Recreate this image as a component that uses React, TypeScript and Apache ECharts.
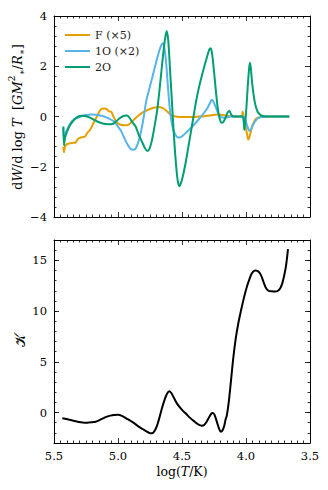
import React, { useEffect, useRef } from "react";
import * as echarts from "echarts";

// ---- Data ----
const fLogT = [5.427, 5.422, 5.414, 5.398, 5.375, 5.35, 5.33, 5.315, 5.297, 5.275, 5.258, 5.235, 5.22, 5.2, 5.18, 5.16, 5.145, 5.13, 5.11, 5.09, 5.07, 5.055, 5.04, 5.02, 5.0, 4.98, 4.95, 4.92, 4.89, 4.86, 4.83, 4.8, 4.76, 4.72, 4.685, 4.65, 4.62, 4.59, 4.56, 4.52, 4.45, 4.36, 4.28, 4.22, 4.17, 4.14, 4.1, 4.035, 4.026, 4.018, 4.005, 3.99, 3.982, 3.972, 3.955, 3.943, 3.92, 3.89, 3.86, 3.662];
const fVal = [-1.2, -1.42, -1.2, -1.1, -1.07, -1.05, -1.03, -0.9, -0.85, -0.82, -0.8, -0.62, -0.55, -0.35, -0.15, 0.05, 0.2, 0.3, 0.32, 0.3, 0.2, 0.2, 0.05, -0.15, -0.28, -0.33, -0.35, -0.33, -0.2, -0.05, 0.08, 0.18, 0.28, 0.35, 0.38, 0.33, 0.22, 0.08, 0.01, -0.02, -0.02, 0, 0.04, 0.08, 0.05, 0.02, 0, 0, 0.19, 0, -0.35, -0.75, -0.92, -0.8, -0.45, -0.27, -0.08, -0.02, 0, 0];

const oLogT = [5.427, 5.422, 5.414, 5.4, 5.37, 5.34, 5.29, 5.25, 5.213, 5.17, 5.13, 5.109, 5.07, 5.031, 5.0, 4.979, 4.96, 4.94, 4.915, 4.9, 4.88, 4.862, 4.84, 4.82, 4.8, 4.78, 4.75, 4.72, 4.69, 4.665, 4.652, 4.64, 4.625, 4.61, 4.595, 4.575, 4.555, 4.529, 4.51, 4.49, 4.45, 4.41, 4.37, 4.335, 4.3, 4.28, 4.268, 4.255, 4.235, 4.215, 4.2, 4.175, 4.15, 4.12, 4.03, 4.012, 3.995, 3.98, 3.972, 3.96, 3.943, 3.93, 3.91, 3.88, 3.85, 3.662];
const oVal = [-0.45, -0.85, -0.7, -0.55, -0.25, -0.1, 0.0, 0.06, 0.08, 0.07, 0.03, 0.0, -0.08, -0.2, -0.4, -0.55, -0.75, -0.98, -1.2, -1.3, -1.32, -1.28, -1.0, -0.6, -0.05, 0.6, 1.2, 1.8, 2.4, 2.8, 2.92, 2.8, 2.2, 1.2, 0.3, -0.4, -0.7, -0.84, -0.82, -0.75, -0.55, -0.35, -0.12, 0.1, 0.35, 0.55, 0.67, 0.6, 0.35, 0.1, 0, -0.05, -0.04, 0, 0, -0.05, -0.3, -0.52, -0.57, -0.5, -0.32, -0.2, -0.08, -0.02, 0, 0];

const tLogT = [5.427, 5.422, 5.414, 5.398, 5.375, 5.344, 5.31, 5.28, 5.24, 5.2, 5.162, 5.12, 5.07, 5.045, 5.02, 4.99, 4.953, 4.93, 4.91, 4.885, 4.862, 4.84, 4.813, 4.79, 4.771, 4.755, 4.735, 4.715, 4.695, 4.675, 4.655, 4.635, 4.62, 4.607, 4.595, 4.58, 4.565, 4.55, 4.535, 4.521, 4.505, 4.49, 4.47, 4.45, 4.43, 4.41, 4.39, 4.37, 4.346, 4.32, 4.3, 4.285, 4.276, 4.265, 4.25, 4.235, 4.22, 4.205, 4.19, 4.175, 4.16, 4.145, 4.13, 4.118, 4.1, 4.03, 4.018, 4.013, 4.005, 3.995, 3.985, 3.975, 3.969, 3.962, 3.95, 3.93, 3.91, 3.891, 3.87, 3.85, 3.662];
const tVal = [-0.4, -1.15, -0.85, -0.6, -0.35, -0.14, 0.0, 0.03, 0.0, -0.1, -0.2, -0.28, -0.31, -0.3, -0.22, -0.08, 0.03, 0.04, -0.05, -0.25, -0.4, -0.7, -1.0, -1.25, -1.37, -1.3, -0.95, -0.4, 0.2, 1.1, 2.1, 3.0, 3.4, 3.0, 2.0, 0.7, -0.6, -1.7, -2.5, -2.77, -2.6, -2.3, -1.8, -1.2, -0.6, 0.0, 0.6, 1.1, 1.6, 2.1, 2.45, 2.68, 2.72, 2.5, 1.8, 1.0, 0.3, -0.1, -0.25, -0.2, -0.05, 0.15, 0.22, 0.1, 0, 0, -0.2, -0.54, -0.2, 0.5, 1.3, 1.95, 2.14, 1.9, 1.25, 0.53, 0.2, 0.08, 0.02, 0, 0];

const kLogT = [5.435, 5.38, 5.331, 5.29, 5.24, 5.2, 5.175, 5.13, 5.097, 5.06, 5.032, 5.0, 4.97, 4.929, 4.88, 4.838, 4.79, 4.747, 4.725, 4.705, 4.69, 4.672, 4.656, 4.635, 4.617, 4.6, 4.585, 4.565, 4.54, 4.5, 4.47, 4.435, 4.4, 4.37, 4.345, 4.325, 4.305, 4.285, 4.27, 4.258, 4.245, 4.228, 4.21, 4.196, 4.183, 4.17, 4.16, 4.15, 4.135, 4.12, 4.1, 4.08, 4.06, 4.04, 4.02, 4.0, 3.98, 3.955, 3.93, 3.91, 3.89, 3.875, 3.86, 3.845, 3.825, 3.8, 3.773, 3.75, 3.73, 3.715, 3.7, 3.688, 3.68, 3.672];
const kVal = [-0.56, -0.7, -0.85, -0.95, -1.0, -0.95, -0.9, -0.65, -0.45, -0.3, -0.23, -0.22, -0.32, -0.62, -1.0, -1.38, -1.75, -2.05, -1.98, -1.6, -1.1, -0.3, 0.45, 1.3, 1.85, 2.1, 1.95, 1.5, 0.9, 0.26, -0.1, -0.55, -0.9, -1.2, -1.3, -1.2, -0.85, -0.4, -0.1, -0.05, -0.25, -0.9, -1.6, -1.9, -1.75, -1.3, -0.7, -0.3, 1.0, 2.8, 5.3, 7.3, 8.8, 10.0, 11.1, 12.1, 12.9, 13.7, 14.0, 13.95, 13.7, 13.3, 12.75, 12.3, 12.0, 11.95, 11.92, 12.0, 12.3, 12.8, 13.6, 14.4, 15.2, 16.1];

const seriesNames = ["F (×5)", "1O (×2)", "2O"];
const seriesColors = ["#E69F00", "#56B4E9", "#009E73"];

const topYTicks = { min: -4, max: 4, step: 2 };
const botYRange = { min: -3, max: 17, minorStep: 1 };
const botYMajor = [0, 5, 10, 15];
const xTicks = { min: 3.5, max: 5.5, step: 0.5 };

const FONT = "DejaVu Serif";

function pairs(xs: number[], ys: number[]) {
  return xs.map((x, i) => [x, ys[i]]);
}

const minusFmt = (v: number) => (v < 0 ? "\u2212" + Math.abs(v) : String(v));

export default function App() {
  const ref = useRef<HTMLDivElement>(null);
  useEffect(() => {
    if (!ref.current) return;
    const chart = echarts.init(ref.current, undefined, { renderer: "svg" });

    const tickLine = { color: "#000", width: 0.8 };
    const labelStyle = { fontFamily: FONT, fontSize: 11.5, color: "#000", margin: 7 };
    const baseX = (gridIndex: number, position: string, showLabel: boolean) => ({
      type: "value",
      gridIndex,
      position,
      inverse: true,
      min: xTicks.min,
      max: xTicks.max,
      interval: xTicks.step,
      axisLine: { show: true, onZero: false, lineStyle: { color: "#000", width: 1 } },
      axisTick: { show: true, inside: true, length: 5, lineStyle: tickLine },
      minorTick: { show: true, splitNumber: 10, length: 2.5, lineStyle: tickLine },
      splitLine: { show: false },
      axisLabel: { show: showLabel, formatter: (v: number) => v.toFixed(1), ...labelStyle },
    });
    const topY = (position: string, showLabel: boolean) => ({
      type: "value",
      gridIndex: 0,
      position,
      min: topYTicks.min,
      max: topYTicks.max,
      interval: topYTicks.step,
      axisLine: { show: true, onZero: false, lineStyle: { color: "#000", width: 1 } },
      axisTick: { show: true, inside: true, length: 5, lineStyle: tickLine },
      minorTick: { show: true, splitNumber: 5, length: 2.5, lineStyle: tickLine },
      splitLine: { show: false },
      axisLabel: { show: showLabel, formatter: minusFmt, ...labelStyle },
    });
    // bottom y: minor-tick axis (every 1) + major axis with custom ticks/labels
    const botYMinor = (position: string) => ({
      type: "value",
      gridIndex: 1,
      position,
      min: botYRange.min,
      max: botYRange.max,
      interval: botYRange.minorStep,
      axisLine: { show: true, onZero: false, lineStyle: { color: "#000", width: 1 } },
      axisTick: { show: true, inside: true, length: 2.5, lineStyle: tickLine },
      splitLine: { show: false },
      axisLabel: { show: false },
    });
    const botYMajorAxis = (position: string, showLabel: boolean) => ({
      type: "value",
      gridIndex: 1,
      position,
      min: botYRange.min,
      max: botYRange.max,
      interval: botYRange.minorStep,
      axisLine: { show: false, onZero: false },
      axisTick: { show: true, inside: true, length: 5, lineStyle: tickLine, customValues: botYMajor },
      splitLine: { show: false },
      axisLabel: { show: showLabel, customValues: botYMajor, formatter: minusFmt, ...labelStyle },
    });

    const option: any = {
      animation: false,
      backgroundColor: "#fff",
      grid: [
        { left: 54, top: 16, width: 256, height: 201 },
        { left: 54, top: 240, width: 256, height: 203 },
      ],
      xAxis: [
        baseX(0, "bottom", false),
        baseX(0, "top", false),
        baseX(1, "bottom", true),
        baseX(1, "top", false),
      ],
      yAxis: [
        topY("left", true),
        topY("right", false),
        botYMinor("left"),
        botYMinor("right"),
        botYMajorAxis("left", true),
        botYMajorAxis("right", false),
      ],
      legend: {
        data: seriesNames,
        orient: "vertical",
        left: 60,
        top: 23,
        icon: "rect",
        itemWidth: 25,
        itemHeight: 2,
        itemGap: 2,
        textStyle: { fontFamily: FONT, fontSize: 11, color: "#222", lineHeight: 14 },
      },
      series: [
        ...[pairs(fLogT, fVal), pairs(oLogT, oVal), pairs(tLogT, tVal)].map((d, i) => ({
          name: seriesNames[i],
          type: "line",
          xAxisIndex: 0,
          yAxisIndex: 0,
          data: d,
          showSymbol: false,
          symbol: "none",
          smooth: 0.3,
          lineStyle: { color: seriesColors[i], width: 2 },
          itemStyle: { color: seriesColors[i] },
          z: 3 + i,
        })),
        {
          name: "K",
          type: "line",
          xAxisIndex: 2,
          yAxisIndex: 2,
          data: pairs(kLogT, kVal),
          showSymbol: false,
          symbol: "none",
          smooth: 0.3,
          lineStyle: { color: "#000", width: 2 },
        },
      ],
      graphic: [
        {
          type: "text",
          x: 17,
          y: 117,
          rotation: Math.PI / 2,
          style: {
            text: "{n|d}{i|W}{n|/d log }{i|T}{n|  [}{i|GM}{sup|2}{sub|∗}{n|/}{i|R}{sub|∗}{n|]}",
            align: "center",
            verticalAlign: "middle",
            fill: "#000",
            rich: {
              n: { fontFamily: FONT, fontSize: 13, lineHeight: 19, fill: "#000" },
              i: { fontFamily: FONT, fontSize: 13, fontStyle: "italic", lineHeight: 19, fill: "#000" },
              sup: { fontFamily: FONT, fontSize: 9, lineHeight: 10, verticalAlign: "top", fill: "#000" },
              sub: { fontFamily: FONT, fontSize: 9, lineHeight: 10, verticalAlign: "bottom", fill: "#000" },
            },
          },
        },
        {
          type: "text",
          x: 20,
          y: 340,
          rotation: Math.PI / 2,
          style: {
            text: "𝒦",
            align: "center",
            verticalAlign: "middle",
            fontFamily: FONT,
            fontSize: 14,
            fill: "#000",
          },
        },
        {
          type: "text",
          x: 182,
          y: 471,
          style: {
            text: "{n|log(}{i|T}{n|/K)}",
            align: "center",
            verticalAlign: "middle",
            rich: {
              n: { fontFamily: FONT, fontSize: 12.5, fill: "#000" },
              i: { fontFamily: FONT, fontSize: 12.5, fontStyle: "italic", fill: "#000" },
            },
          },
        },
      ],
    };
    chart.setOption(option);
    return () => chart.dispose();
  }, []);
  return (
    <div
      ref={ref}
      style={{ position: "fixed", left: 0, top: 0, width: 328, height: 490, background: "#fff" }}
    />
  );
}
